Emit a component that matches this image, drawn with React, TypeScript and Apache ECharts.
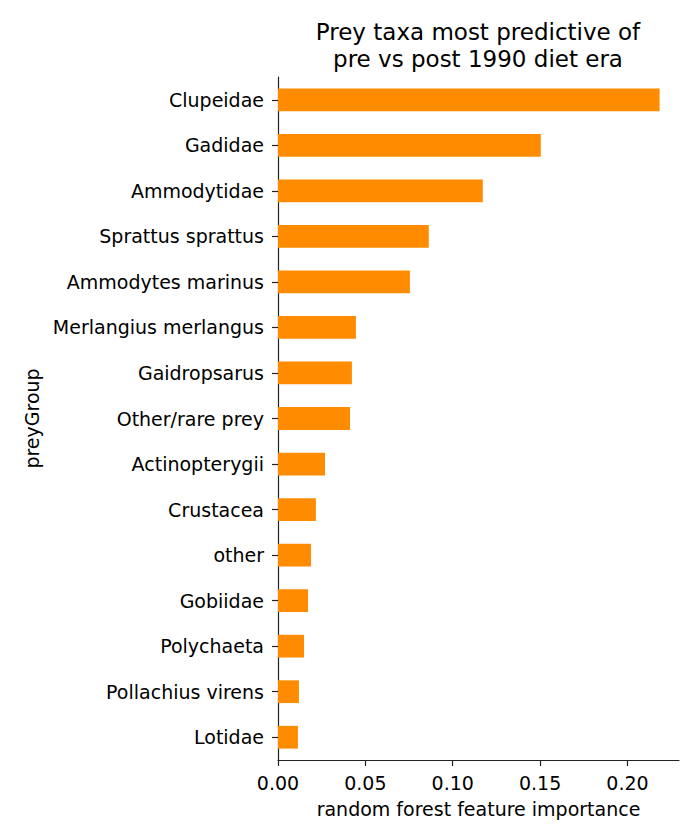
import React, { useEffect, useRef } from "react";
import * as echarts from "echarts";

const categories = [
  "Clupeidae",
  "Gadidae",
  "Ammodytidae",
  "Sprattus sprattus",
  "Ammodytes marinus",
  "Merlangius merlangus",
  "Gaidropsarus",
  "Other/rare prey",
  "Actinopterygii",
  "Crustacea",
  "other",
  "Gobiidae",
  "Polychaeta",
  "Pollachius virens",
  "Lotidae",
];
const importance = [
  0.2184, 0.1504, 0.1172, 0.0863, 0.0755, 0.0446, 0.0423, 0.0412, 0.0269,
  0.0217, 0.0189, 0.0172, 0.0149, 0.012, 0.0114,
];
const titleLines = ["Prey taxa most predictive of", "pre vs post 1990 diet era"];
const xAxisName = "random forest feature importance";
const yAxisName = "preyGroup";

const FONT = "DejaVu Sans";

export default function App() {
  const ref = useRef<HTMLDivElement>(null);
  useEffect(() => {
    if (!ref.current) return;
    const chart = echarts.init(ref.current, undefined, { renderer: "svg" });
    const axisColor = "#222";
    chart.setOption({
      animation: false,
      backgroundColor: "#fff",
      title: {
        text: titleLines.join("\n"),
        left: 478,
        top: 18,
        padding: 0,
        textAlign: "center",
        textStyle: {
          fontFamily: FONT,
          fontSize: 23,
          fontWeight: "normal",
          color: "#000",
          lineHeight: 27,
        },
      },
      grid: { left: 278, top: 77, right: 21, bottom: 80, containLabel: false },
      xAxis: {
        type: "value",
        min: 0,
        max: 0.2295,
        interval: 0.05,
        name: xAxisName,
        nameLocation: "middle",
        nameGap: 39,
        nameTextStyle: { fontFamily: FONT, fontSize: 19, color: "#000" },
        axisLine: { show: true, lineStyle: { color: axisColor, width: 1.2 } },
        axisTick: { show: true, length: 6, lineStyle: { color: axisColor, width: 1.2 } },
        axisLabel: {
          fontFamily: FONT,
          fontSize: 19,
          color: "#000",
          margin: 13,
          showMaxLabel: false,
          formatter: (v: number) => v.toFixed(2),
        },
        splitLine: { show: false },
      },
      yAxis: {
        type: "category",
        data: categories,
        inverse: true,
        name: yAxisName,
        nameLocation: "middle",
        nameRotate: 90,
        nameGap: 233,
        nameTextStyle: { fontFamily: FONT, fontSize: 19, color: "#000" },
        axisLine: { show: true, lineStyle: { color: axisColor, width: 1.2 } },
        axisTick: { show: true, length: 6, alignWithLabel: true, lineStyle: { color: axisColor, width: 1.2 } },
        axisLabel: { fontFamily: FONT, fontSize: 19, color: "#000", margin: 14 },
        splitLine: { show: false },
      },
      series: [
        {
          type: "bar",
          data: importance,
          barWidth: "50%",
          itemStyle: { color: "#FF8C00" },
        },
      ],
    });
    return () => chart.dispose();
  }, []);
  return (
    <div
      ref={ref}
      style={{ position: "absolute", left: 0, top: 0, width: 700, height: 840 }}
    />
  );
}
